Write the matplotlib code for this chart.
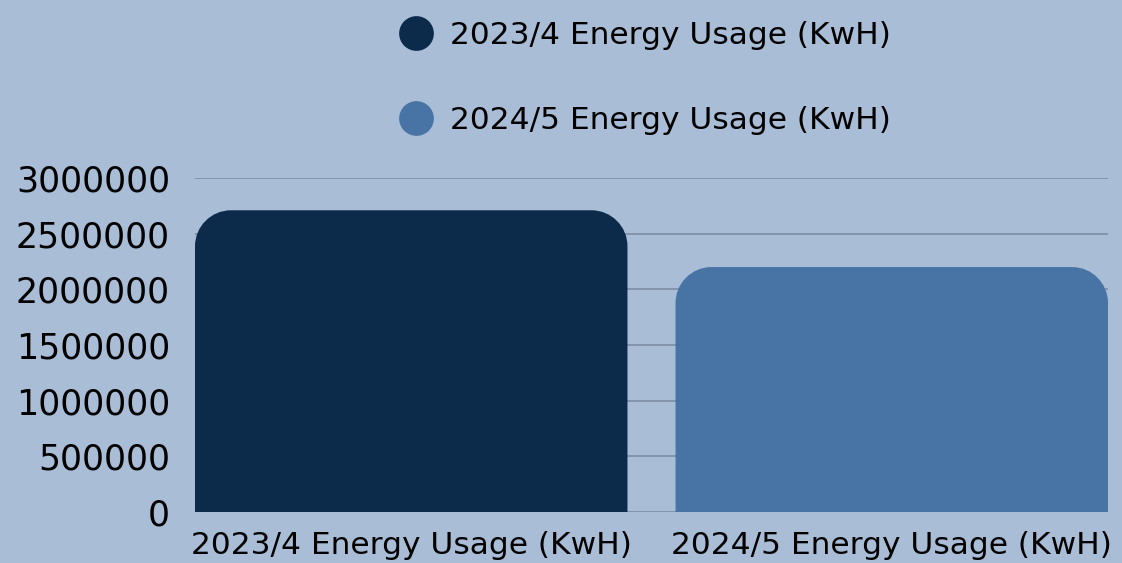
import numpy as np
import matplotlib.pyplot as plt
from matplotlib.path import Path
from matplotlib.patches import PathPatch
from matplotlib.lines import Line2D

categories = ['2023/4 Energy Usage (KwH)', '2024/5 Energy Usage (KwH)']
values = [2710000, 2200000]
colors = ['#0c2a4a', '#4873a5']
yticks = [0, 500000, 1000000, 1500000, 2000000, 2500000, 3000000]

bg = '#a9bdd7'
W, H, DPI = 1122, 563, 100

fig = plt.figure(figsize=(W / DPI, H / DPI), dpi=DPI, facecolor=bg)
ax_l, ax_b, ax_w, ax_h = 195 / W, 51 / H, 913 / W, 334 / H
ax = fig.add_axes([ax_l, ax_b, ax_w, ax_h], facecolor=bg)

bw = 0.9
x = np.arange(len(categories))
xlim = (-bw / 2, len(categories) - 1 + bw / 2)
ylim = (0, 3000000)
ax.set_xlim(xlim)
ax.set_ylim(ylim)

# corner radius in pixels, turned into data units on each axis
r_px = 36
rx = r_px * (xlim[1] - xlim[0]) / (ax_w * W)
ry = r_px * (ylim[1] - ylim[0]) / (ax_h * H)
k = 0.5523


def top_rounded(x0, x1, top):
    verts = [
        (x0, 0), (x0, top - ry),
        (x0, top - ry + k * ry), (x0 + rx - k * rx, top), (x0 + rx, top),
        (x1 - rx, top),
        (x1 - rx + k * rx, top), (x1, top - ry + k * ry), (x1, top - ry),
        (x1, 0), (x0, 0),
    ]
    codes = [Path.MOVETO, Path.LINETO,
             Path.CURVE4, Path.CURVE4, Path.CURVE4,
             Path.LINETO,
             Path.CURVE4, Path.CURVE4, Path.CURVE4,
             Path.LINETO, Path.CLOSEPOLY]
    return Path(verts, codes)


for xi, v, c in zip(x, values, colors):
    ax.add_patch(PathPatch(top_rounded(xi - bw / 2, xi + bw / 2, v),
                           facecolor=c, edgecolor='none', zorder=2))

ax.set_yticks(yticks)
ax.set_yticklabels([str(t) for t in yticks])
ax.set_xticks(x)
ax.set_xticklabels(categories)
ax.yaxis.grid(True, color='#7d8ca3', linewidth=1.2, zorder=0)
ax.set_axisbelow(True)
ax.tick_params(axis='both', length=0, labelcolor='black')
ax.tick_params(axis='y', pad=18, labelsize=25)
ax.tick_params(axis='x', pad=14, labelsize=22.5)
for s in ax.spines.values():
    s.set_visible(False)

handles = [Line2D([], [], linestyle='none', marker='o', markersize=25,
                  markerfacecolor=c, markeredgecolor='none') for c in colors]
fig.legend(handles, categories, loc='upper left',
           bbox_to_anchor=(372 / W, 1.0 - 8 / H),
           frameon=False, fontsize=22.5, labelspacing=1.8, handletextpad=0.1,
           borderaxespad=0.0, borderpad=0.4)

fig.savefig('out.png', dpi=DPI, facecolor=bg)
